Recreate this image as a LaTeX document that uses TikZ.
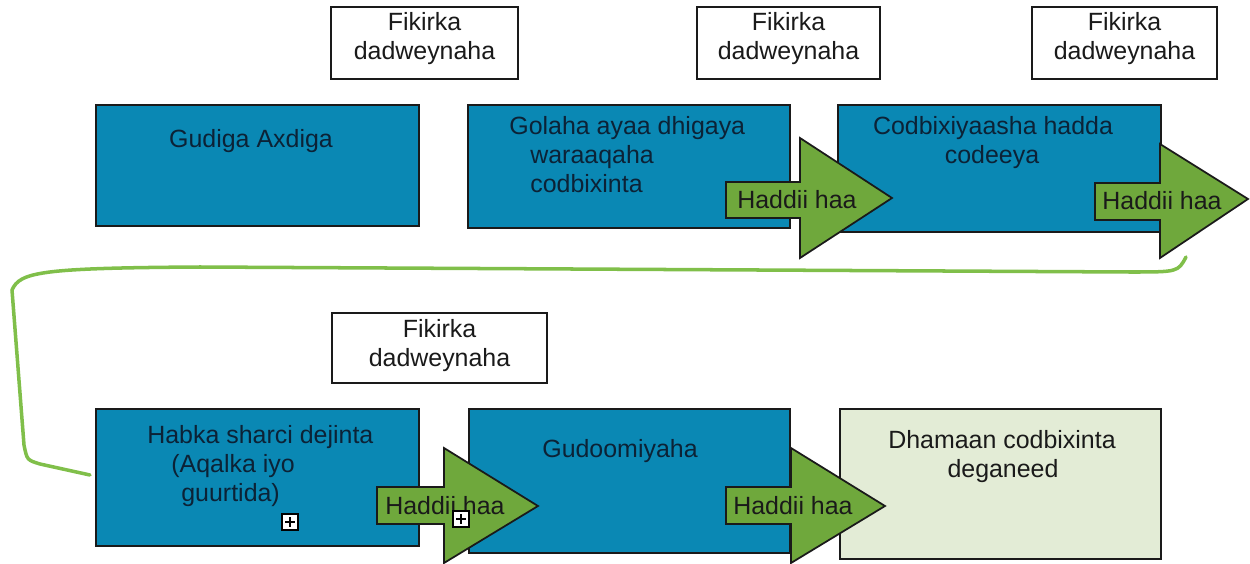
\documentclass[tikz,border=0pt]{standalone}
\usepackage{fontspec}
\setmainfont{Liberation Sans}
\definecolor{boxblue}{HTML}{0A88B4}
\definecolor{arrgreen}{HTML}{6FA83C}
\definecolor{lightgr}{HTML}{E3ECD6}
\definecolor{curvegreen}{HTML}{80BF4A}
\definecolor{navytext}{HTML}{0C2236}
\definecolor{edge}{HTML}{1A1A1A}
\begin{document}
\begin{tikzpicture}[x=0.02cm,y=-0.02cm,
  box/.style={rectangle, draw=edge, line width=1pt, inner sep=0pt},
  bluebox/.style={box, fill=boxblue},
  whitebox/.style={box, fill=white},
  lightbox/.style={box, fill=lightgr},
  lbl/.style={inner sep=0pt, font=\fontsize{14.2}{16.5}\selectfont, text=edge},
  bluelbl/.style={lbl, text=navytext},
  blockarrow/.style={draw=edge, line width=1pt, fill=arrgreen, line join=miter},
  plusbox/.style={rectangle, draw=black, fill=white, minimum size=0.32cm, inner sep=0pt, line width=0.9pt,
    path picture={
      \draw[line width=1pt] ([xshift=1.8pt]path picture bounding box.west) -- ([xshift=-1.8pt]path picture bounding box.east);
      \draw[line width=1pt] ([yshift=-1.8pt]path picture bounding box.north) -- ([yshift=1.8pt]path picture bounding box.south);}},
  loop/.style={draw=curvegreen, line width=2pt, line cap=round, line join=round}
]
\useasboundingbox (0,0) rectangle (1250,564);

% ---- boxes
\node[whitebox, minimum width=3.74cm, minimum height=1.44cm] (fA) at (424.5,43) {};
\node[whitebox, minimum width=3.66cm, minimum height=1.44cm] (fB) at (788.5,43) {};
\node[whitebox, minimum width=3.70cm, minimum height=1.44cm] (fC) at (1124.5,43) {};
\node[whitebox, minimum width=4.30cm, minimum height=1.40cm] (fD) at (439.5,348) {};

\node[bluebox, minimum width=6.46cm, minimum height=2.42cm] (b1) at (257.5,165.5) {};
\node[bluebox, minimum width=6.44cm, minimum height=2.46cm] (b2) at (629,166.5) {};
\node[bluebox, minimum width=6.46cm, minimum height=2.54cm] (b3) at (999.5,168.5) {};
\node[bluebox, minimum width=6.46cm, minimum height=2.74cm] (b4) at (257.5,477.5) {};
\node[bluebox, minimum width=6.42cm, minimum height=2.88cm] (b5) at (629.5,481) {};
\node[lightbox, minimum width=6.42cm, minimum height=3.00cm] (b6) at (1000.5,484) {};

% ---- box texts
\node[lbl, anchor=base] (fA1) at (424.5,31) {Fikirka};
\node[lbl, anchor=base] (fA2) at (424.5,60) {dadweynaha};
\node[lbl, anchor=base] (fB1) at (788.5,31) {Fikirka};
\node[lbl, anchor=base] (fB2) at (788.5,60) {dadweynaha};
\node[lbl, anchor=base] (fC1) at (1124.5,31) {Fikirka};
\node[lbl, anchor=base] (fC2) at (1124.5,60) {dadweynaha};
\node[lbl, anchor=base] (fD1) at (439.5,337) {Fikirka};
\node[lbl, anchor=base] (fD2) at (439.5,366) {dadweynaha};

\node[bluelbl, anchor=base] (t1) at (251,148) {Gudiga Axdiga};
\node[bluelbl, anchor=base west] (t2a) at (509,135) {Golaha ayaa dhigaya};
\node[bluelbl, anchor=base west] (t2b) at (530,164) {waraaqaha};
\node[bluelbl, anchor=base west] (t2c) at (530,193) {codbixinta};
\node[bluelbl, anchor=base] (t3a) at (993,135) {Codbixiyaasha hadda};
\node[bluelbl, anchor=base] (t3b) at (992,164) {codeeya};
\node[bluelbl, anchor=base west] (t4a) at (147,443) {Habka sharci dejinta};
\node[bluelbl, anchor=base west] (t4b) at (171,472) {(Aqalka iyo};
\node[bluelbl, anchor=base west] (t4c) at (181,501) {guurtida)};
\node[bluelbl, anchor=base] (t5) at (620,457) {Gudoomiyaha};
\node[lbl, anchor=base] (t6a) at (1002,448) {Dhamaan codbixinta};
\node[lbl, anchor=base] (t6b) at (1003,477) {deganeed};

% ---- block arrows
\draw[blockarrow] (726,182) -- (800,182) -- (800,138) -- (892,198) -- (800,258) -- (800,218) -- (726,218) -- cycle;
\node[lbl, anchor=base west] (a1) at (737,209) {Haddii haa};
\draw[blockarrow] (1095,183) -- (1160,183) -- (1160,144) -- (1248,199) -- (1160,258) -- (1160,220) -- (1095,220) -- cycle;
\node[lbl, anchor=base west] (a2) at (1102,210) {Haddii haa};
\draw[blockarrow] (377,487) -- (444,487) -- (444,448) -- (538,506) -- (444,563) -- (444,524) -- (377,524) -- cycle;
\node[lbl, anchor=base west] (a3) at (385,514) {Haddii haa};
\draw[blockarrow] (726,487) -- (791,487) -- (791,448) -- (885,506) -- (791,563) -- (791,524) -- (726,524) -- cycle;
\node[lbl, anchor=base west] (a4) at (733,514) {Haddii haa};

% ---- expand icons
\node[plusbox] (p1) at (290,522) {};
\node[plusbox] (p2) at (461,519) {};

% ---- green loop line
\coordinate (ls) at (1186,257);
\coordinate (le) at (90,475);
\draw[loop] (ls) .. controls (1178,272) .. (1130,272) -- (200,267)
  .. controls (40,268) and (20,272) .. (12,290) -- (24,445)
  .. controls (27,460) .. (40,464) -- (le);
\end{tikzpicture}
\end{document}
